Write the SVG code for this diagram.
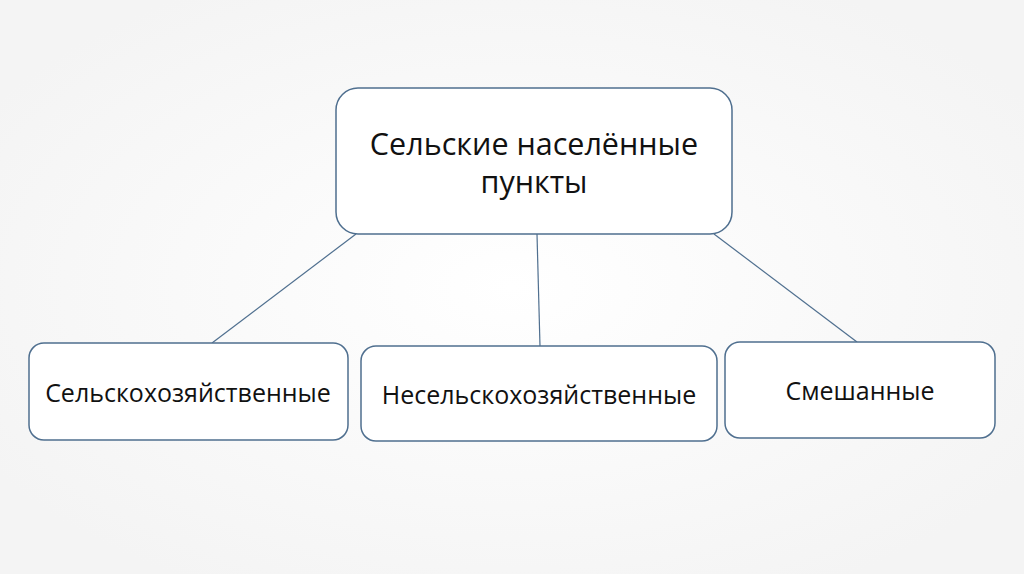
<svg xmlns="http://www.w3.org/2000/svg" width="1024" height="574" viewBox="0 0 1024 574">
<defs>
<radialGradient id="bg" cx="0.5" cy="0.5" r="0.6">
<stop offset="0" stop-color="#ffffff"/>
<stop offset="1" stop-color="#f4f4f4"/>
</radialGradient>
<style>
.box{fill:#ffffff;stroke:#4f6f8f;stroke-width:1.5}
.t{font-family:"Open Sans","Noto Sans","DejaVu Sans",sans-serif;fill:#111;text-anchor:middle}
.c{stroke:#4f6f8f;stroke-width:1.2;fill:none}
</style>
</defs>
<rect x="0" y="0" width="1024" height="574" fill="url(#bg)"/>
<g id="connectors">
<line class="c" x1="356" y1="234" x2="212" y2="343"/>
<line class="c" x1="537" y1="234" x2="540" y2="346"/>
<line class="c" x1="714" y1="234" x2="857" y2="342"/>
</g>
<g id="root">
<rect class="box" x="336" y="88" width="396" height="146" rx="22"/>
<text class="t" x="534" y="155" font-size="30.5">Сельские населённые</text>
<text class="t" x="534" y="193" font-size="30.5">пункты</text>
</g>
<g id="agri">
<rect class="box" x="29" y="343" width="319" height="97" rx="15"/>
<text class="t" x="188" y="402" font-size="25">Сельскохозяйственные</text>
</g>
<g id="nonagri">
<rect class="box" x="361" y="346" width="356" height="95" rx="15"/>
<text class="t" x="539" y="404" font-size="25">Несельскохозяйственные</text>
</g>
<g id="mixed">
<rect class="box" x="725" y="342" width="270" height="96" rx="15"/>
<text class="t" x="860" y="400" font-size="25">Смешанные</text>
</g>
</svg>
